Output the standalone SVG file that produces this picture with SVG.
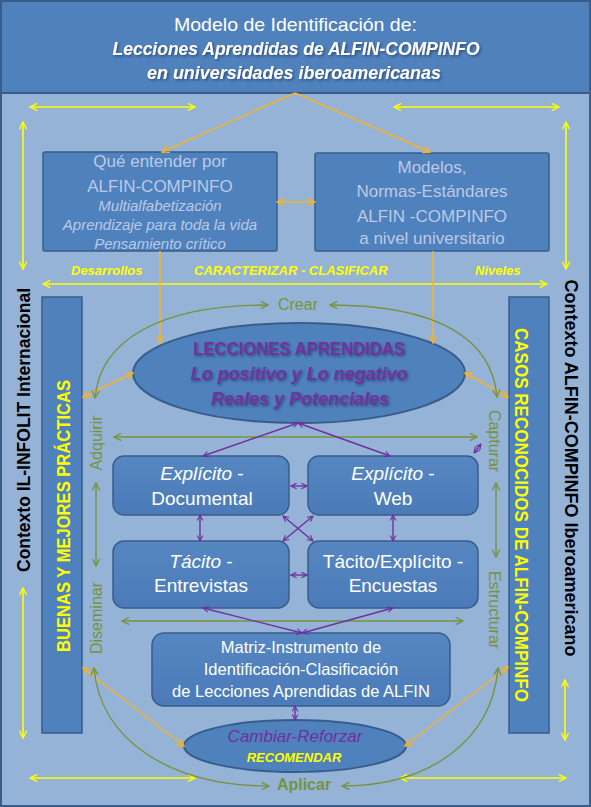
<svg xmlns="http://www.w3.org/2000/svg" width="591" height="807" viewBox="0 0 591 807">
<defs>
<style>
text{font-family:"Liberation Sans",Arial,sans-serif}
.box{fill:#4f81bd;stroke:#385d8a;stroke-width:1.5}
.rbox{fill:url(#g);stroke:#385d8a;stroke-width:1.5}
.pale{fill:#bccae6;font-size:17px;text-anchor:middle}
.palei{fill:#bccae6;font-size:15px;font-style:italic;text-anchor:middle}
.wt{fill:#fff;font-size:19px;text-anchor:middle}
.mt{fill:#fff;font-size:16.5px;text-anchor:middle}
.yl{fill:#ffff00;font-size:13px;font-weight:bold;font-style:italic}
.pu{fill:#7030a0;font-size:18px;font-weight:bold;font-style:italic;text-anchor:middle}
.gr{fill:#77933c;font-size:16px;text-anchor:middle}
.side{font-size:18px;font-weight:bold;text-anchor:middle}
.cy{fill:none;stroke:#ffff00;stroke-width:1.6;marker-start:url(#ay);marker-end:url(#ay)}
.co{fill:none;stroke:#f4b32a;stroke-width:1.5}
.cg{fill:none;stroke:#77933c;stroke-width:1.4;marker-start:url(#ag);marker-end:url(#ag)}
.cp{fill:none;stroke:#7030a0;stroke-width:1.4;marker-start:url(#ap);marker-end:url(#ap)}
</style>
<linearGradient id="g" x1="0" y1="0" x2="0" y2="1"><stop offset="0" stop-color="#5687c3"/><stop offset="1" stop-color="#4a7bb8"/></linearGradient>
<filter id="sh" x="-10%" y="-30%" width="120%" height="160%"><feDropShadow dx="1.5" dy="1.5" stdDeviation="1" flood-color="#1f2f4f" flood-opacity="0.6"/></filter>
<marker id="ay" viewBox="0 0 10 10" refX="9" refY="5" markerWidth="9" markerHeight="9" markerUnits="userSpaceOnUse" orient="auto-start-reverse"><path d="M1,1 L9,5 L1,9" fill="none" stroke="#ffff00" stroke-width="1.6"/></marker>
<marker id="ao" viewBox="0 0 10 10" refX="9" refY="5" markerWidth="9" markerHeight="9" markerUnits="userSpaceOnUse" orient="auto-start-reverse"><path d="M1,1 L9,5 L1,9" fill="none" stroke="#f4b32a" stroke-width="1.6"/></marker>
<marker id="ag" viewBox="0 0 10 10" refX="9" refY="5" markerWidth="9" markerHeight="9" markerUnits="userSpaceOnUse" orient="auto-start-reverse"><path d="M1,1 L9,5 L1,9" fill="none" stroke="#77933c" stroke-width="1.5"/></marker>
<marker id="ap" viewBox="0 0 10 10" refX="9" refY="5" markerWidth="7" markerHeight="7" markerUnits="userSpaceOnUse" orient="auto-start-reverse"><path d="M1,1 L9,5 L1,9" fill="none" stroke="#7030a0" stroke-width="1.6"/></marker>
</defs>

<rect x="1" y="1" width="589" height="805" fill="#95b3d7" stroke="#385d8a" stroke-width="2"/>

<g id="header">
<rect x="1" y="1" width="589" height="92" fill="#4f81bd" stroke="#385d8a" stroke-width="2"/>
<text x="295.5" y="31" fill="#fff" font-size="19" text-anchor="middle" textLength="243" lengthAdjust="spacingAndGlyphs">Modelo de Identificación de:</text>
<text x="296" y="55" fill="#fff" font-size="19" font-weight="bold" font-style="italic" text-anchor="middle" textLength="367" lengthAdjust="spacingAndGlyphs" filter="url(#sh)">Lecciones Aprendidas de ALFIN-COMPINFO</text>
<text x="294" y="79" fill="#fff" font-size="19" font-weight="bold" font-style="italic" text-anchor="middle" textLength="294" lengthAdjust="spacingAndGlyphs" filter="url(#sh)">en universidades iberoamericanas</text>
</g>

<g id="box-que">
<rect class="box" x="43" y="152" width="234" height="99" rx="2"/>
<text class="pale" x="160" y="167">Qué entender por</text>
<text class="pale" x="160" y="192">ALFIN-COMPINFO</text>
<text class="palei" x="160" y="211">Multialfabetización</text>
<text class="palei" x="160" y="230">Aprendizaje para toda la vida</text>
<text class="palei" x="160" y="249">Pensamiento crítico</text>
</g>

<g id="box-modelos">
<rect class="box" x="315" y="153" width="234" height="98" rx="2"/>
<text class="pale" x="432" y="173">Modelos,</text>
<text class="pale" x="432" y="197">Normas-Estándares</text>
<text class="pale" x="432" y="222">ALFIN -COMPINFO</text>
<text class="pale" x="432" y="244">a nivel universitario</text>
</g>

<g id="rect-buenas">
<rect class="box" x="42" y="297" width="40" height="436"/>
<text class="side" fill="#ffff00" transform="translate(70,516) rotate(-90)" textLength="272" lengthAdjust="spacingAndGlyphs">BUENAS Y MEJORES PRÁCTICAS</text>
</g>

<g id="rect-casos">
<rect class="box" x="509" y="297" width="40" height="436"/>
<text class="side" fill="#ffff00" transform="translate(515,515) rotate(90)" textLength="374" lengthAdjust="spacingAndGlyphs">CASOS RECONOCIDOS DE ALFIN-COMPINFO</text>
</g>

<g id="ellipse-lecciones">
<ellipse cx="299" cy="373" rx="166" ry="50" fill="#4f81bd" stroke="#385d8a" stroke-width="2"/>
<text class="pu" x="299" y="355" font-style="normal" font-size="17" textLength="212" lengthAdjust="spacingAndGlyphs" filter="url(#sh)" style="font-style:normal">LECCIONES APRENDIDAS</text>
<text class="pu" x="299" y="380" filter="url(#sh)">Lo positivo y Lo negativo</text>
<text class="pu" x="300" y="405" filter="url(#sh)">Reales y Potenciales</text>
</g>

<g id="box-doc">
<rect class="rbox" x="113" y="456" width="176" height="59" rx="11"/>
<text class="wt" x="202" y="480"><tspan font-style="italic">Explícito</tspan> -</text>
<text class="wt" x="202" y="505">Documental</text>
</g>

<g id="box-web">
<rect class="rbox" x="308" y="456" width="170" height="59" rx="11"/>
<text class="wt" x="393" y="480"><tspan font-style="italic">Explícito</tspan> -</text>
<text class="wt" x="393" y="505">Web</text>
</g>

<g id="box-tacito">
<rect class="rbox" x="113" y="541" width="176" height="67" rx="11"/>
<text class="wt" x="201" y="568"><tspan font-style="italic">Tácito</tspan> -</text>
<text class="wt" x="201" y="592">Entrevistas</text>
</g>

<g id="box-encuestas">
<rect class="rbox" x="308" y="541" width="170" height="67" rx="11"/>
<text class="wt" x="393" y="568">Tácito/Explícito -</text>
<text class="wt" x="393" y="592">Encuestas</text>
</g>

<g id="box-matriz">
<rect class="rbox" x="152" y="633" width="298" height="73" rx="12"/>
<text class="mt" x="301" y="653">Matriz-Instrumento de</text>
<text class="mt" x="301" y="675">Identificación-Clasificación</text>
<text class="mt" x="301" y="697">de Lecciones Aprendidas de ALFIN</text>
</g>

<g id="ellipse-cambiar">
<ellipse cx="295" cy="746" rx="111" ry="26" fill="#4f81bd" stroke="#385d8a" stroke-width="2"/>
<text x="295" y="742" fill="#7030a0" font-size="17" font-style="italic" text-anchor="middle">Cambiar-Reforzar</text>
<text x="294" y="762" fill="#ffff00" font-size="13" font-weight="bold" font-style="italic" text-anchor="middle">RECOMENDAR</text>
</g>

<g id="labels">
<text class="side" fill="#000" transform="translate(30,430) rotate(-90)" textLength="284" lengthAdjust="spacingAndGlyphs">Contexto IL-INFOLIT Internacional</text>
<text class="side" fill="#000" transform="translate(565,468) rotate(90)" textLength="377" lengthAdjust="spacingAndGlyphs">Contexto ALFIN-COMPINFO Iberoamericano</text>
<text class="yl" x="71" y="275">Desarrollos</text>
<text class="yl" x="194" y="275" font-size="12">CARACTERIZAR - CLASIFICAR</text>
<text class="yl" x="475" y="275">Niveles</text>
<text class="gr" x="298" y="310">Crear</text>
<text class="gr" transform="translate(102,443) rotate(-90)">Adquirir</text>
<text class="gr" transform="translate(102,618) rotate(-90)">Diseminar</text>
<text class="gr" transform="translate(489,441) rotate(90)">Capturar</text>
<text class="gr" transform="translate(489,610) rotate(90)">Estructurar</text>
<text class="gr" x="304" y="790" font-weight="bold">Aplicar</text>
</g>

<g id="connectors">
<path class="cy" d="M30,107 H195"/>
<path class="cy" d="M394,107 H559"/>
<path class="cy" d="M23,122 V269"/>
<path class="cy" d="M566,122 V269"/>
<path class="cy" d="M43,284 H547"/>
<path class="cy" d="M23,588 V738"/>
<path class="cy" d="M565,680 V740"/>
<path class="cy" d="M30,778 H195"/>
<path class="cy" d="M400,778 H566"/>

<path class="co" d="M295,93 L162,152" marker-end="url(#ao)"/>
<path class="co" d="M295,93 L430,152" marker-end="url(#ao)"/>
<path class="co" d="M277,202 H315" marker-start="url(#ao)" marker-end="url(#ao)"/>
<path class="co" d="M160,251 V343" marker-end="url(#ao)"/>
<path class="co" d="M433,251 V343" marker-end="url(#ao)"/>
<path class="co" d="M83,397 L133,373" marker-start="url(#ao)" marker-end="url(#ao)"/>
<path class="co" d="M465,373 L508,397" marker-start="url(#ao)" marker-end="url(#ao)"/>
<path class="co" d="M83,668 L184,746" marker-start="url(#ao)" marker-end="url(#ao)"/>
<path class="co" d="M405,746 L508,667" marker-start="url(#ao)" marker-end="url(#ao)"/>

<path class="cg" d="M95,398 C100,340 160,305 268,305"/>
<path class="cg" d="M330,305 C440,305 492,340 497,397"/>
<path class="cg" d="M114,437 H477"/>
<path class="cg" d="M122,621 H463"/>
<path class="cg" d="M96,483 V566"/>
<path class="cg" d="M496,483 V557"/>
<path class="cg" d="M94,668 C100,740 170,786 269,786"/>
<path class="cg" d="M342,786 C430,786 492,740 498,668"/>

<path class="cp" d="M298,423 L203,456"/>
<path class="cp" d="M298,423 L390,456"/>
<path class="cp" d="M291,486 H307"/>
<path class="cp" d="M200,515 V541"/>
<path class="cp" d="M393,515 V541"/>
<path class="cp" d="M283,516 L313,541"/>
<path class="cp" d="M313,516 L283,541"/>
<path class="cp" d="M291,575 H307"/>
<path class="cp" d="M203,608 L302,633"/>
<path class="cp" d="M393,608 L302,633"/>
<path class="cp" d="M295,706 V720"/>
<path class="cp" d="M474,453 L481,444"/>
</g>
</svg>
